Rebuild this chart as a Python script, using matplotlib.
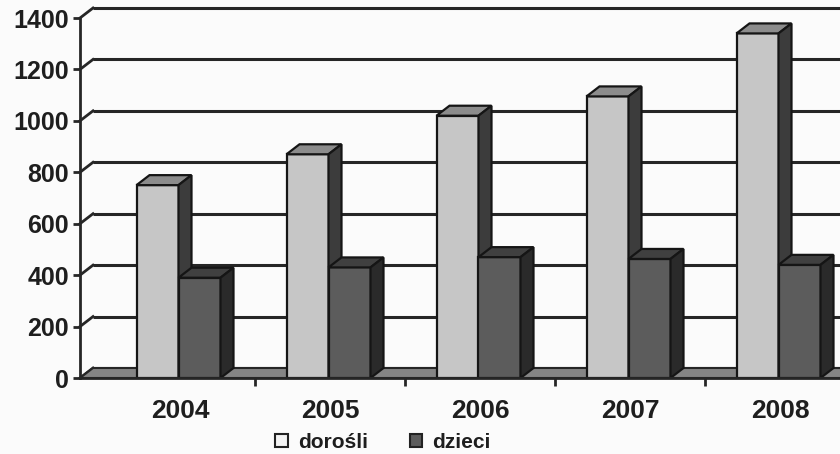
import numpy as np
import matplotlib.pyplot as plt
from matplotlib.patches import Polygon, Patch

# data
years = ['2004', '2005', '2006', '2007', '2008']
dorosli = [750, 870, 1020, 1095, 1340]
dzieci = [390, 430, 470, 463, 440]
yticks = [0, 200, 400, 600, 800, 1000, 1200, 1400]

plt.rcParams['font.family'] = ['Liberation Sans', 'DejaVu Sans']

W, H = 840, 454
fig = plt.figure(figsize=(W / 100, H / 100), dpi=100)
fig.patch.set_facecolor('#fbfbfb')

# axes: front y axis at x=80px, zero at y=378px, 1400 at y=18px
x_left_px, y0_px, ytop_px = 80, 378, 18
ax = fig.add_axes([x_left_px / W, (H - y0_px) / H,
                   (W - x_left_px) / W, (y0_px - ytop_px) / H])
ax.set_facecolor('none')

cat_px = 150.0
x0 = (x_left_px - 180) / cat_px
ax.set_xlim(x0, x0 + (W - x_left_px) / cat_px)
ax.set_ylim(0, 1400)

dx = 13 / cat_px
dy = 10 / ((y0_px - ytop_px) / 1400)
xr_end = x0 + 6

line_c = '#262626'

# floor
ax.add_patch(Polygon([(x0, 0), (x0 + dx, dy), (xr_end + dx, dy), (xr_end, 0)],
                     closed=True, facecolor='#858585', edgecolor=line_c,
                     lw=1.5, zorder=1, clip_on=False))

# back gridlines + left wall diagonals
for v in yticks:
    ax.plot([x0 + dx, xr_end], [v + dy, v + dy], color=line_c, lw=2.2,
            zorder=0.5, clip_on=False, solid_capstyle='butt')
    ax.plot([x0, x0 + dx], [v, v + dy], color=line_c, lw=2.0,
            zorder=0.5, clip_on=False)


def bar3d(xc, h, w, front, top, side):
    xl, xr = xc - w / 2, xc + w / 2
    ax.bar(xc, h, w, color=front, edgecolor='#151515', lw=1.6, zorder=3)
    ax.add_patch(Polygon([(xl, h), (xl + dx, h + dy), (xr + dx, h + dy), (xr, h)],
                         closed=True, facecolor=top, edgecolor='#151515',
                         lw=1.6, zorder=3, clip_on=False))
    ax.add_patch(Polygon([(xr, 0), (xr + dx, dy), (xr + dx, h + dy), (xr, h)],
                         closed=True, facecolor=side, edgecolor='#151515',
                         lw=1.6, zorder=3, clip_on=False))


bw = 0.28
x = np.arange(len(years))
for i in range(len(years)):
    bar3d(x[i] - 0.15, dorosli[i], bw, '#c6c6c6', '#8c8c8c', '#3c3c3c')
    bar3d(x[i] + 0.13, dzieci[i], bw, '#5c5c5c', '#404040', '#2a2a2a')

# front axes
for s in ['top', 'right']:
    ax.spines[s].set_visible(False)
ax.spines['left'].set_color(line_c)
ax.spines['left'].set_linewidth(2)
ax.spines['bottom'].set_color(line_c)
ax.spines['bottom'].set_linewidth(2)
ax.spines['bottom'].set_zorder(4)

ax.set_yticks(yticks)
ax.set_yticklabels([str(v) for v in yticks], fontsize=18, fontweight='bold',
                   color='#1e1e1e')
ax.tick_params(axis='y', length=5, width=2, color=line_c, pad=3)

ax.set_xticks(x)
ax.set_xticklabels(years, fontsize=19, fontweight='bold', color='#1e1e1e')
ax.set_xticks(x[:-1] + 0.5, minor=True)
ax.tick_params(axis='x', which='major', length=0, pad=15)
ax.tick_params(axis='x', which='minor', length=6, width=2, color=line_c)

handles = [Patch(facecolor='#f4f4f4', edgecolor='#222222', lw=1.5, label='dorośli'),
           Patch(facecolor='#5c5c5c', edgecolor='#222222', lw=1.5, label='dzieci')]
fig.legend(handles=handles, loc='center', bbox_to_anchor=(383 / W, 1 - 442 / H),
           ncol=2, frameon=False, handlelength=0.6, handleheight=0.6,
           handletextpad=0.5, columnspacing=2.0,
           prop={'size': 15, 'weight': 'bold'}, labelcolor='#1e1e1e',
           borderpad=0.1)

fig.savefig('out.png', dpi=100, facecolor=fig.get_facecolor())
